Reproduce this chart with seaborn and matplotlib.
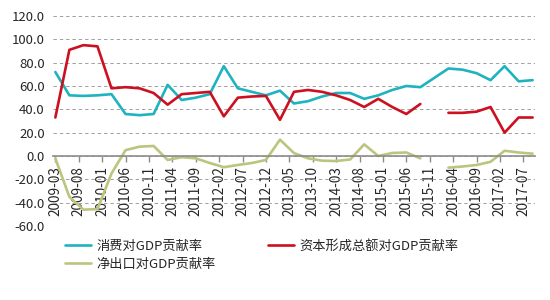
import numpy as np
import pandas as pd
import matplotlib
matplotlib.use("Agg")
import matplotlib.pyplot as plt
from matplotlib.lines import Line2D
import seaborn as sns

sns.set_style("white")
plt.rcParams['font.family'] = ['Noto Sans CJK SC', 'DejaVu Sans']

quarters = ["2009-03", "2009-06", "2009-09", "2009-12",
            "2010-03", "2010-06", "2010-09", "2010-12",
            "2011-03", "2011-06", "2011-09", "2011-12",
            "2012-03", "2012-06", "2012-09", "2012-12",
            "2013-03", "2013-06", "2013-09", "2013-12",
            "2014-03", "2014-06", "2014-09", "2014-12",
            "2015-03", "2015-06", "2015-09", "2015-12",
            "2016-03", "2016-06", "2016-09", "2016-12",
            "2017-03", "2017-06", "2017-09"]

consumption = [72, 52, 51.5, 52, 53, 36, 35, 36, 61, 48, 50, 53,
               77, 58, 55, 52, 56, 45, 47, 51, 54, 54, 49, 52,
               56.6, 60, 59, 67, 75, 74, 71, 65, 77, 64, 65]
capital = [33, 91, 95, 94, 58, 59, 58, 54, 44, 53, 54, 55,
           34, 50, 51, 51.5, 31, 55, 56.6, 55, 52, 48, 42, 49,
           42, 36, 44.6, np.nan, 37, 37, 38, 42, 20, 33, 33]
net_exports = [-2, -35, -46, -45.5, -15, 5, 8, 8.6, -3.4, -1, -2, -6,
               -9.6, -7.7, -6, -3.4, 14, 2.5, -2, -4, -4.3, -3, 10, 0,
               2.6, 3, -2, np.nan, -10, -9, -7.7, -5, 4.5, 3, 2]

tick_labels = ["2009-03", "2009-08", "2010-01", "2010-06", "2010-11",
               "2011-04", "2011-09", "2012-02", "2012-07", "2012-12",
               "2013-05", "2013-10", "2014-03", "2014-08", "2015-01",
               "2015-06", "2015-11", "2016-04", "2016-09", "2017-02",
               "2017-07"]

series_names = ["消费对GDP贡献率", "资本形成总额对GDP贡献率", "净出口对GDP贡献率"]
colors = ["#1FB3C0", "#CC1020", "#BDC47E"]


def month_index(s):
    y, m = s.split("-")
    return (int(y) - 2009) * 12 + int(m) - 3


df = pd.DataFrame({
    "month": [month_index(q) for q in quarters],
    series_names[0]: consumption,
    series_names[1]: capital,
    series_names[2]: net_exports,
})

fig = plt.figure(figsize=(5.5, 3.0), dpi=100)
ax = fig.add_axes([53 / 550, 1 - 226 / 300, (535 - 53) / 550, (226 - 16) / 300])

for name, c in zip(series_names, colors):
    sub = df[["month", name]].copy()
    valid = sub[name].notna()
    seg_id = (valid != valid.shift()).cumsum()
    for _, seg in sub[valid].groupby(seg_id[valid]):
        sns.lineplot(data=seg, x="month", y=name, ax=ax, color=c,
                     linewidth=1.9, legend=False)

for side in ["left", "right", "top"]:
    ax.spines[side].set_visible(False)
ax.spines["bottom"].set_position(("data", 0))
ax.spines["bottom"].set_color("#8c8c8c")
ax.spines["bottom"].set_linewidth(1.2)
ax.set_xlabel("")
ax.set_ylabel("")

ax.set_xlim(-0.5, 102.5)
ax.set_ylim(-60, 120)
ax.set_yticks(np.arange(-60, 121, 20))
ax.set_yticklabels([f"{v:.1f}" for v in np.arange(-60, 121, 20)], fontsize=9.5)
ax.yaxis.grid(True, linestyle=(0, (3.5, 3)), color="#a0a0a0", linewidth=0.7)
ax.xaxis.grid(False)
ax.set_axisbelow(True)

ax.set_xticks([month_index(t) for t in tick_labels])
ax.set_xticklabels(tick_labels, rotation=90, fontsize=9.8)
ax.tick_params(axis="x", direction="out", length=4, color="#8c8c8c",
               width=1, pad=3, bottom=True)
ax.tick_params(axis="y", length=0, pad=6)

handles = [Line2D([], [], color=colors[i], linewidth=1.9) for i in (0, 2, 1)]
labels = [series_names[i] for i in (0, 2, 1)]
fig.legend(handles, labels, loc="upper left", bbox_to_anchor=(65 / 550, 1 - 240 / 300),
           ncol=2, frameon=False, fontsize=9.5, handlelength=2.0,
           handletextpad=0.4, columnspacing=3.9, labelspacing=0.35,
           borderpad=0, borderaxespad=0)

fig.savefig("out.png", dpi=100, facecolor="white")
